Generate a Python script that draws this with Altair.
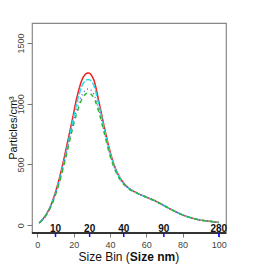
import altair as alt
import pandas as pd

# Size-bin index positions of the sampled points
bins = [1, 4, 7, 10, 13, 16, 19, 22, 25, 28, 31, 34, 37, 40, 43, 46, 50, 55, 60, 65, 70, 75, 80, 85, 90, 95, 100]
red = [18, 70, 150, 275, 440, 640, 850, 1065, 1210, 1253, 1200, 1010, 800, 610, 470, 380, 310, 265, 232, 200, 160, 120, 85, 60, 42, 32, 23]
cyan = [18, 68, 146, 265, 422, 612, 820, 1020, 1160, 1200, 1155, 980, 785, 598, 462, 374, 308, 264, 231, 199, 160, 120, 85, 60, 42, 32, 23]
blue = [18, 66, 141, 256, 407, 592, 790, 965, 1082, 1120, 1082, 945, 765, 585, 455, 370, 306, 263, 231, 199, 160, 120, 85, 60, 42, 32, 23]
green = [18, 65, 138, 250, 400, 580, 772, 935, 1050, 1088, 1052, 925, 750, 575, 448, 366, 304, 262, 230, 198, 160, 120, 85, 60, 42, 32, 23]

series_names = ["a", "b", "c", "d"]
series_vals = [red, cyan, blue, green]
series_colors = ["#F21C1C", "#1FE0E8", "#6060FF", "#2DB82D"]
series_dash = [[1, 0], [6, 2], [1, 3], [4, 4]]

# secondary size labels (nm) and their bin positions
size_labels = ["10", "20", "40", "90", "280"]
size_pos = [10, 28.8, 47.6, 69.7, 100]

x_ticks = [0, 20, 40, 60, 80, 100]
y_ticks = [0, 500, 1000, 1500]

W, H = 194, 210

rows = []
for name, vals in zip(series_names, series_vals):
    for b, v in zip(bins, vals):
        rows.append({"bin": b, "value": v, "series": name})
df = pd.DataFrame(rows)
sdf = pd.DataFrame({"pos": size_pos, "label": size_labels})

xscale = alt.Scale(domain=[-2.96, 103.96], nice=False, zero=False)
yscale = alt.Scale(domain=[-64, 1664], nice=False, zero=False)

xaxis = alt.Axis(values=x_ticks, title=None, grid=False, domain=False, format="d",
                 tickSize=4, tickColor="#777", labelColor="#444",
                 labelOverlap=False, labelFlush=False, labelBound=False,
                 labelFontSize=9, labelPadding=3, labelFont="Liberation Sans")

lines = alt.Chart(df).mark_line(strokeWidth=1.5, interpolate="monotone").encode(
    x=alt.X("bin:Q", scale=xscale, axis=xaxis),
    y=alt.Y("value:Q", scale=yscale,
            axis=alt.Axis(values=y_ticks, title=None, grid=False, domain=False, format="d",
                          tickSize=5, tickColor="#777", labelColor="#444",
                          labelOverlap=False, labelFlush=False, labelBound=False,
                          labelFontSize=9, labelAngle=-90, labelAlign="center",
                          labelBaseline="bottom", labelPadding=2, labelFont="Liberation Sans")),
    color=alt.Color("series:N", scale=alt.Scale(domain=series_names, range=series_colors), legend=None),
    strokeDash=alt.StrokeDash("series:N", scale=alt.Scale(domain=series_names, range=series_dash), legend=None),
    order=alt.Order("bin:Q"),
)

base_line = alt.Chart(sdf).mark_rule(color="#333", strokeWidth=2).encode(
    x=alt.value(0), x2=alt.value(W), y=alt.value(H)
)

blue_ticks = alt.Chart(sdf).mark_rule(color="#1010FF", strokeWidth=1.5).encode(
    x=alt.X("pos:Q", scale=xscale, axis=xaxis), y=alt.value(H), y2=alt.value(H + 4)
)

size_text = alt.Chart(sdf).mark_text(fontWeight="bold", fontSize=10, baseline="bottom",
                                     font="Liberation Sans", color="#111").encode(
    x=alt.X("pos:Q", scale=xscale, axis=xaxis), y=alt.value(H + 1), text="label:N"
)

tdf = pd.DataFrame({"t": ["Size Bin (", "Size nm", ")", "Particles/cm³"]})
t1 = alt.Chart(tdf).transform_filter(alt.datum.t == "Size Bin (").mark_text(
    fontSize=12, align="left", baseline="middle", font="Liberation Sans", color="#111"
).encode(x=alt.value(46.5), y=alt.value(H + 23.5), text="t:N")
t2 = alt.Chart(tdf).transform_filter(alt.datum.t == "Size nm").mark_text(
    fontSize=12, fontWeight="bold", align="left", baseline="middle", font="Liberation Sans", color="#111"
).encode(x=alt.value(97.8), y=alt.value(H + 23.5), text="t:N")
t3 = alt.Chart(tdf).transform_filter(alt.datum.t == ")").mark_text(
    fontSize=12, align="left", baseline="middle", font="Liberation Sans", color="#111"
).encode(x=alt.value(143.2), y=alt.value(H + 23.5), text="t:N")
t4 = alt.Chart(tdf).transform_filter(alt.datum.t == "Particles/cm³").mark_text(
    fontSize=11, angle=270, align="center", baseline="middle", font="Liberation Sans", color="#111"
).encode(x=alt.value(-18), y=alt.value(H / 2), text="t:N")

chart = alt.layer(lines, base_line, blue_ticks, size_text, t1, t2, t3, t4).properties(
    width=W, height=H,
    autosize=alt.AutoSizeParams(type="none"),
    padding={"left": 24, "top": 15, "right": 10, "bottom": 40},
    background="white",
).configure_view(stroke="#888", strokeWidth=1.2)

chart.save("out.html", embed_options={"renderer": "svg", "actions": False})
